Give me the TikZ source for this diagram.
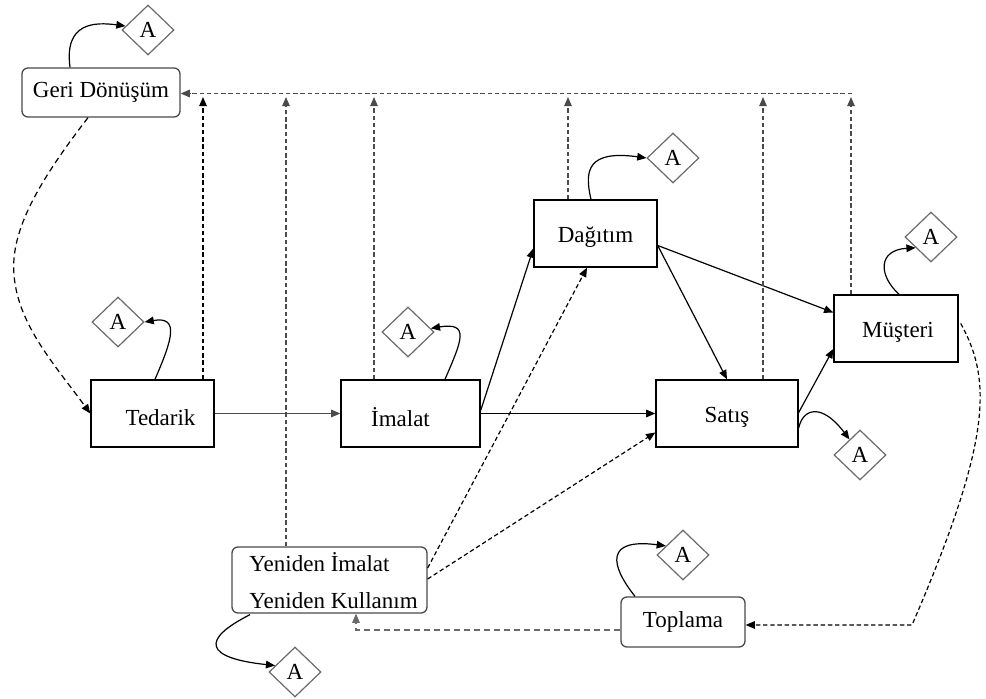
\documentclass[tikz,border=0pt]{standalone}
\usepackage{fontspec}
\setmainfont{Liberation Serif}
\usetikzlibrary{arrows.meta,shapes.geometric,calc}
\definecolor{dg}{HTML}{4a4a4a}
\definecolor{lg}{HTML}{6a6a6a}
\newcommand{\lowr}[2]{\raisebox{-#1}[\height][\depth]{#2}}
\tikzset{
  box/.style={draw=black,line width=0.7pt,minimum height=33.5pt,inner sep=0pt,font=\fontsize{11.5}{13.8}\selectfont},
  rbox/.style={draw=dg,line width=0.65pt,rounded corners=3pt,inner sep=0pt,font=\fontsize{11.5}{13.8}\selectfont},
  adia/.style={diamond,draw=lg,line width=0.6pt,minimum width=26pt,minimum height=25pt,inner sep=0pt,font=\fontsize{11.5}{13.8}\selectfont},
  arr/.style={-{Triangle[length=4.6pt,width=3.8pt]}},
  sol/.style={arr,line width=0.6pt,draw=black},
  dsh/.style={arr,line width=0.6pt,dash pattern=on 2.2pt off 1.4pt},
}
\begin{document}
\begin{tikzpicture}[x=0.5pt,y=-0.5pt]
\useasboundingbox (0,0) rectangle (986,699);
% main nodes
\node[rbox,minimum width=79pt,minimum height=24.5pt] (geri) at (101,92.5) {Geri Dönüşüm};
\node[box,minimum width=61.5pt] (ted) at (152.5,413.5) {\hspace*{8pt}\lowr{2pt}{Tedarik}};
\node[box,minimum width=69.5pt] (ima) at (410.5,413.5) {\lowr{2pt}{İmalat}\hspace*{10pt}};
\node[box,minimum width=61.5pt] (dag) at (595.5,233.5) {\lowr{2pt}{Dağıtım}};
\node[box,minimum width=71pt] (sat) at (727,413.5) {\lowr{2pt}{Satış}};
\node[box,minimum width=62pt] (mus) at (896,328.5) {\hspace*{2pt}\lowr{2pt}{Müşteri}};
\node[rbox,minimum width=97.5pt,minimum height=33pt] (yen) at (329.5,580) {};
\node[font=\fontsize{11.5}{13.8}\selectfont,anchor=west,inner sep=0pt] (yen1) at (249,562) {Yeniden İmalat};
\node[font=\fontsize{11.5}{13.8}\selectfont,anchor=west,inner sep=0pt] (yen2) at (249,601) {Yeniden Kullanım};
\node[rbox,minimum width=62pt,minimum height=25pt] (top) at (683,622) {Toplama};
% diamonds
\node[adia] (aG) at (148,30) {A};
\node[adia] (aT) at (118,322) {A};
\node[adia] (aI) at (408,332) {A};
\node[adia] (aD) at (673,158) {A};
\node[adia] (aM) at (931,237) {A};
\node[adia] (aS) at (860,455) {A};
\node[adia] (aY) at (295,672) {A};
\node[adia] (aP) at (683,555) {A};
% curved A arrows
\draw[sol] ($(geri.north)+(-31,0)$) .. controls (64,22) and (95,22) .. (aG.170);
\draw[sol] ($(ted.north)+(2.5,0)$) .. controls (172,340) and (180,316) .. (aT.east);
\draw[sol] ($(ima.north)+(34.5,0)$) .. controls (462,340) and (470,322) .. (aI.9);
\draw[sol] ($(dag.north)+(-4.5,0)$) .. controls (584,170) and (588,150) .. (aD.west);
\draw[sol] ($(mus.north)+(3,0)$) .. controls (878,275) and (878,250) .. (aM.215);
\draw[sol] ($(sat.east)+(0,14.5)$) .. controls (803,408) and (822,403) .. (aS.124);
\draw[sol] ($(yen.south)+(-79.5,1)$) .. controls (200,640) and (205,658) .. (aY.162);
\draw[sol] ($(top.north)+(-48,0)$) .. controls (610,565) and (605,538) .. (aP.152);
% solid flows
\draw[sol,draw=dg] (ted.east) -- (ima.west);
\draw[sol] (ima.east) -- (sat.west);
\draw[sol] ($(ima.east)+(0,-3)$) -- ($(dag.west)+(0,15)$);
\draw[sol] ($(dag.east)+(0,12)$) -- (sat.north);
\draw[sol] ($(dag.east)+(0,12)$) -- ($(mus.west)+(0,-16)$);
\draw[sol] ($(sat.east)+(0,-1)$) -- ($(mus.west)+(0,20.5)$);
% top dashed return line
\coordinate (tr) at (852,93.5);
\draw[dsh,draw=dg] (tr) -- (tr -| geri.east);
\coordinate (v1) at (203,97);
\coordinate (v2) at (286,97);
\coordinate (v3) at (374,97);
\coordinate (v4) at (568,97);
\coordinate (v5) at (763,97);
\coordinate (v6) at (851,97);
\draw[dsh,draw=black] (v1 |- ted.north) -- (v1);
\draw[dsh,draw=dg] (v2 |- yen.north) -- (v2);
\draw[dsh,draw=dg] (v3 |- ima.north) -- (v3);
\draw[dsh,draw=dg] (v4 |- dag.north) -- (v4);
\draw[dsh,draw=dg] (v5 |- sat.north) -- (v5);
\draw[dsh,draw=dg] (v6 |- mus.north) -- (v6);
% other dashed
\draw[arr,line width=0.6pt,dash pattern=on 3pt off 2pt] ($(geri.south)+(-13,0)$) .. controls (40,180) and (10,230) .. (14,275) .. controls (18,325) and (55,365) .. (ted.west);
\draw[dsh,draw=black] ($(yen.east)+(0,-12)$) -- ($(dag.south)+(-8.5,0)$);
\draw[dsh,draw=black] ($(yen.east)+(0,-1)$) -- ($(sat.west)+(0,19)$);
\coordinate (mt) at (912,625);
\draw[dsh,draw=black] ($(mus.east)+(2,-5)$) .. controls (992,380) and (992,440) .. (mt) -- (mt -| top.east);
\coordinate (tb) at (356,630);
\draw[dsh,draw=lg,dash pattern=on 3pt off 2pt] ($(top.west)+(0,8)$) -- (tb) -- (tb |- yen.south);
\end{tikzpicture}
\end{document}
